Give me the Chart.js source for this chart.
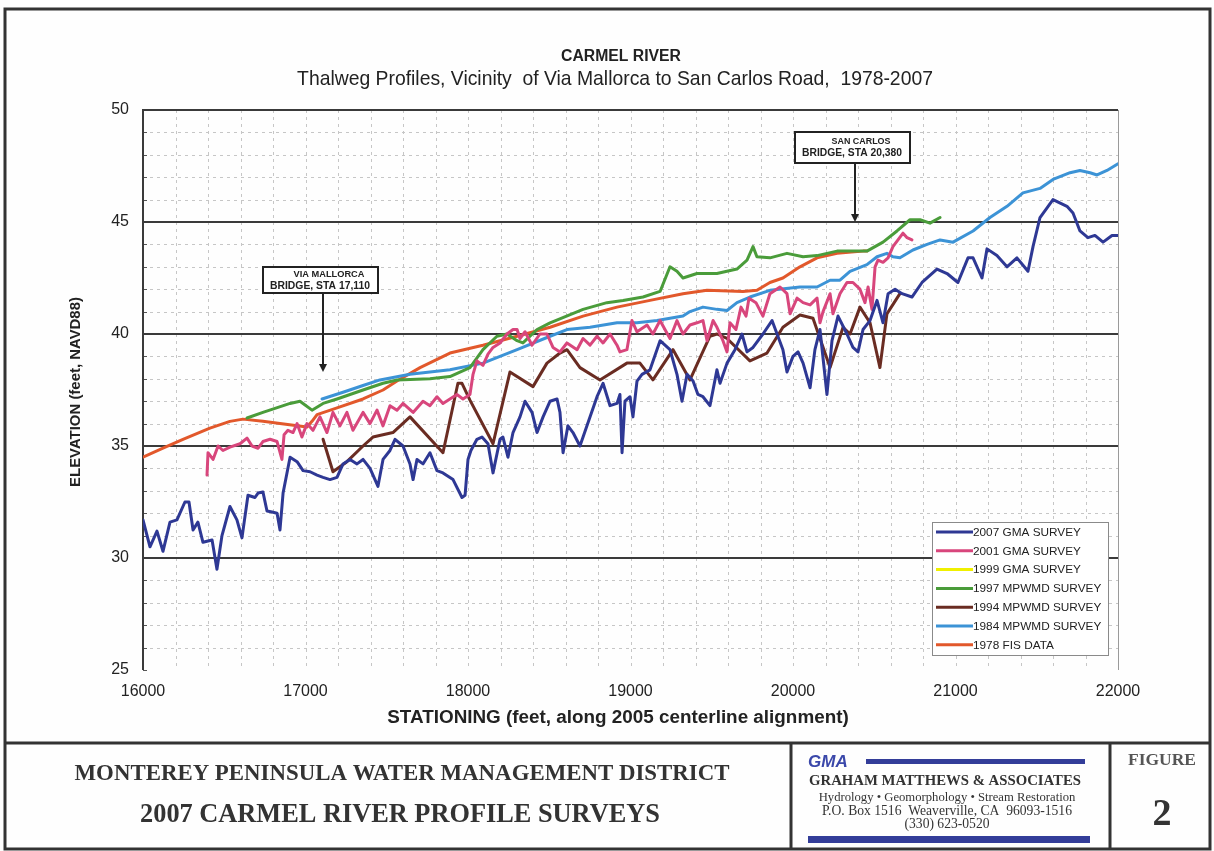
<!DOCTYPE html>
<html>
<head>
<meta charset="utf-8">
<title>Carmel River - Thalweg Profiles</title>
<script src="https://cdn.jsdelivr.net/npm/chart.js@4.4.1/dist/chart.umd.min.js"></script>
<style>
  html, body { margin: 0; padding: 0; background: #fff; }
  #wrap { width: 1214px; height: 851px; }
</style>
</head>
<body>
<div id="wrap"><canvas id="grafico" width="1214" height="851"></canvas></div>
<script>
// --- Dados (estacao em pes, elevacao em pes NAVD88) ---
const sta2007 = [16000,16043,16086,16123,16166,16209,16258,16283,16308,16338,16369,16425,16455,16486,16535,16578,16609,16646,16689,16708,16738,16763,16794,16825,16843,16862,16905,16948,16985,17028,17071,17108,17151,17194,17231,17274,17317,17354,17397,17446,17477,17520,17551,17600,17643,17662,17686,17723,17766,17809,17846,17908,17963,17982,18000,18018,18055,18086,18123,18154,18197,18215,18246,18277,18320,18351,18394,18425,18462,18505,18548,18566,18585,18615,18646,18689,18732,18794,18831,18874,18917,18935,18948,18966,18997,19015,19040,19071,19120,19182,19243,19286,19317,19348,19385,19415,19446,19489,19532,19551,19594,19643,19686,19717,19754,19815,19871,19902,19938,19963,20000,20031,20062,20105,20135,20166,20209,20240,20277,20332,20369,20400,20431,20474,20517,20554,20585,20628,20671,20732,20794,20886,20948,21015,21077,21108,21163,21194,21255,21317,21378,21446,21477,21520,21600,21686,21723,21766,21815,21858,21908,21963,22000];
const elev2007 = [31.7,30.5,31.2,30.3,31.6,31.7,32.5,32.5,31.25,31.6,30.7,30.8,29.5,31.0,32.3,31.7,30.9,32.8,32.7,32.9,32.95,32.1,32.05,32.0,31.25,32.9,34.5,34.3,33.9,33.85,33.7,33.6,33.5,33.6,34.2,34.4,34.2,34.4,34.0,33.2,34.4,34.8,35.3,35.0,34.2,33.5,34.4,34.2,34.7,33.9,33.8,33.5,32.7,32.8,34.4,34.8,35.3,35.4,35.1,33.8,35.3,35.4,34.5,35.6,36.3,37.0,36.5,35.6,36.3,37.0,37.1,36.5,34.7,35.9,35.6,35.0,35.9,37.2,37.8,36.8,36.9,37.3,34.7,37.0,37.2,36.3,37.9,38.2,38.4,39.7,39.3,38.2,37.0,38.2,37.9,37.3,37.2,36.8,38.4,37.8,38.7,39.3,40.0,39.2,39.4,40.0,40.6,40.0,39.3,38.3,39.0,39.2,38.7,37.6,39.3,40.2,37.3,39.7,40.8,40.0,39.4,39.2,40.2,40.6,41.5,40.5,41.8,42.0,41.8,41.65,42.3,42.9,42.7,42.3,43.4,43.4,42.5,43.8,43.5,43.0,43.4,42.8,43.9,45.2,46.0,45.7,45.4,44.6,44.3,44.4,44.1,44.4,44.4];

const sta2001 = [16394,16400,16431,16462,16492,16535,16597,16640,16671,16708,16738,16782,16825,16855,16868,16892,16923,16948,16978,17009,17046,17089,17132,17169,17212,17255,17292,17354,17397,17440,17477,17520,17563,17600,17662,17723,17766,17809,17846,17889,17932,17969,18012,18031,18055,18092,18123,18154,18197,18240,18277,18302,18320,18351,18394,18443,18486,18523,18566,18609,18671,18708,18751,18794,18831,18874,18917,18935,18978,19009,19040,19102,19138,19182,19212,19243,19286,19323,19366,19409,19446,19471,19508,19532,19569,19594,19612,19649,19680,19711,19729,19772,19815,19858,19920,19963,19982,20025,20062,20105,20148,20166,20185,20228,20246,20289,20332,20369,20412,20443,20462,20486,20505,20523,20554,20585,20615,20646,20677,20702,20732];
const elev2001 = [33.7,34.7,34.4,35.0,34.8,34.95,35.1,35.35,35.0,34.9,35.2,35.3,35.2,34.4,35.5,35.7,35.6,36.0,35.4,36.0,35.7,36.3,35.6,36.5,35.9,36.5,35.7,36.5,36.0,36.6,35.9,36.8,36.6,36.9,36.5,37.0,36.8,37.2,36.9,37.1,37.3,37.1,37.3,38.2,38.8,38.6,39.1,39.4,39.6,40.0,40.2,40.2,39.8,40.1,39.5,40.0,40.0,39.4,39.2,39.6,39.3,39.8,39.5,39.9,39.6,40.0,39.5,39.2,39.3,40.6,40.1,40.4,40.0,40.6,40.2,39.8,40.6,40.0,40.4,40.5,40.6,39.7,40.6,40.3,39.7,39.2,40.5,40.2,41.2,40.8,41.6,41.4,40.8,41.8,42.1,41.8,40.9,41.6,41.4,41.3,41.6,40.5,41.0,41.8,40.9,41.8,42.3,42.3,42.0,41.4,42.1,41.1,43.0,43.3,43.2,43.4,43.9,44.2,44.5,44.3,44.2];

// 1999 aparece so na legenda (nao ha linha visivel no grafico)
const sta1999 = [];
const elev1999 = [];

const sta1997 = [16640,16738,16905,16966,17040,17108,17194,17354,17477,17563,17766,17889,18012,18092,18178,18240,18302,18338,18425,18505,18708,18855,18954,19077,19182,19243,19286,19323,19409,19532,19655,19717,19754,19778,19858,19963,20062,20148,20271,20412,20455,20554,20640,20720,20782,20843,20905];
const elev1997 = [36.25,36.5,36.9,37.0,36.6,36.9,37.1,37.5,37.8,37.95,38.0,38.1,38.5,39.3,39.9,40.0,39.7,39.6,40.2,40.5,41.1,41.4,41.5,41.65,41.9,43.0,42.8,42.5,42.7,42.7,42.9,43.3,43.9,43.45,43.4,43.6,43.45,43.5,43.7,43.7,43.7,44.1,44.6,45.1,45.1,44.95,45.2];

const sta1994 = [17108,17169,17255,17354,17415,17538,17643,17846,17938,17963,18012,18154,18258,18400,18486,18566,18609,18689,18812,18978,19058,19138,19262,19366,19489,19532,19594,19735,19840,19938,20043,20123,20228,20308,20351,20412,20474,20535,20578,20658];
const elev1994 = [35.3,33.85,34.3,35.0,35.4,35.6,36.3,34.7,37.8,37.8,37.05,35.1,38.3,37.65,38.7,39.15,39.3,38.5,37.95,38.7,38.7,37.95,39.3,37.95,39.9,40.0,39.8,38.8,39.15,40.3,40.85,40.7,38.5,40.3,40.0,41.2,40.5,38.5,40.9,41.8];

const sta1984 = [17102,17231,17354,17458,17643,17889,18092,18302,18505,18609,18751,18917,19040,19163,19323,19366,19446,19532,19594,19655,19735,19858,20043,20148,20228,20289,20351,20455,20517,20578,20615,20658,20738,20825,20905,20985,21108,21212,21317,21415,21520,21600,21705,21766,21828,21871,21932,22000];
const elev1984 = [37.1,37.4,37.7,37.95,38.2,38.4,38.7,39.3,39.9,40.2,40.3,40.5,40.5,40.6,40.8,41.0,41.2,41.1,41.05,41.4,41.65,41.95,42.1,42.1,42.4,42.4,42.8,43.1,43.45,43.6,43.45,43.4,43.75,44.0,44.2,44.1,44.6,45.2,45.7,46.3,46.5,46.9,47.2,47.3,47.2,47.1,47.3,47.6];

const sta1978 = [16000,16123,16246,16412,16535,16615,16738,16843,17009,17040,17071,17194,17354,17477,17563,17705,17889,18092,18302,18505,18708,18917,19120,19323,19471,19692,19778,19858,19938,20043,20148,20271,20431,20455];
const elev1978 = [34.5,34.9,35.3,35.8,36.1,36.2,36.1,36.0,35.85,36.1,36.4,36.7,37.1,37.5,37.9,38.5,39.15,39.5,39.9,40.3,40.8,41.2,41.5,41.8,41.95,41.9,41.95,42.3,42.5,43.0,43.4,43.6,43.7,43.7];

const nomesSeries = ['2007 GMA SURVEY','2001 GMA SURVEY','1999 GMA SURVEY','1997 MPWMD SURVEY','1994 MPWMD SURVEY','1984 MPWMD SURVEY','1978 FIS DATA'];

// Pontes (estacao em pes)
const pontes = [
  { linhas: ['VIA MALLORCA', 'BRIDGE, STA 17,110'], sta: 17110 },
  { linhas: ['SAN CARLOS', 'BRIDGE, STA 20,380'], sta: 20380 }
];

const SANS = '"Liberation Sans", Arial, sans-serif';
const SERIF = '"Liberation Serif", "Times New Roman", serif';

function pares(sta, elev) {
  return sta.map((s, i) => ({ x: s, y: elev[i] }));
}

const cores = ['#2e3894', '#d8467c', '#f0f000', '#4a9c3a', '#6a2c22', '#3c93d6', '#e2582b'];
const grupos = [[sta2007, elev2007], [sta2001, elev2001], [sta1999, elev1999], [sta1997, elev1997],
                [sta1994, elev1994], [sta1984, elev1984], [sta1978, elev1978]];

const datasets = grupos.map((g, i) => ({
  label: nomesSeries[i],
  data: pares(g[0], g[1]),
  borderColor: cores[i],
  backgroundColor: cores[i],
  borderWidth: 3,
  pointRadius: 0,
  tension: 0,
  fill: false,
  borderJoinStyle: 'round',
  borderCapStyle: 'round'
}));

// escreve texto ajustando o tamanho da fonte para uma largura alvo
function textoLargura(ctx, txt, x, y, largura, peso, familia, cor) {
  ctx.font = peso + ' 100px ' + familia;
  const w = ctx.measureText(txt).width;
  const tam = 100 * largura / w;
  ctx.font = peso + ' ' + tam.toFixed(2) + 'px ' + familia;
  ctx.fillStyle = cor;
  ctx.textAlign = 'center';
  ctx.textBaseline = 'middle';
  ctx.fillText(txt, x, y);
}

function linha(ctx, x1, y1, x2, y2) {
  ctx.beginPath(); ctx.moveTo(x1, y1); ctx.lineTo(x2, y2); ctx.stroke();
}

const desenho = {
  id: 'desenho',
  beforeDraw(chart) {
    const ctx = chart.ctx;
    ctx.save();
    ctx.fillStyle = '#fefefe';
    ctx.fillRect(0, 0, chart.width, chart.height);
    ctx.restore();
  },
  beforeDatasetsDraw(chart) {
    const { ctx, chartArea: a, scales: { x, y } } = chart;
    ctx.save();
    // grade secundaria tracejada
    ctx.lineWidth = 1;
    ctx.strokeStyle = '#c6c6c6';
    ctx.setLineDash([3, 4]);
    x.ticks.forEach(t => {
      if (t.value <= x.min || t.value >= x.max) return;
      const px = Math.round(x.getPixelForValue(t.value)) + 0.5;
      linha(ctx, px, a.top, px, a.bottom);
    });
    y.ticks.forEach(t => {
      if (t.value % 5 === 0) return;
      const py = Math.round(y.getPixelForValue(t.value)) + 0.5;
      linha(ctx, a.left, py, a.right, py);
    });
    ctx.setLineDash([]);
    // marcas pequenas no eixo y
    ctx.strokeStyle = '#555';
    y.ticks.forEach(t => {
      const py = Math.round(y.getPixelForValue(t.value)) + 0.5;
      linha(ctx, a.left, py, a.left + 4, py);
    });
    // borda direita
    ctx.strokeStyle = '#9a9a9a';
    linha(ctx, a.right + 0.5, a.top, a.right + 0.5, a.bottom);
    // linhas principais a cada 5 pes
    ctx.strokeStyle = '#3a3a3a';
    ctx.lineWidth = 2;
    y.ticks.forEach(t => {
      if (t.value % 5 !== 0 || t.value === y.min) return;
      const py = Math.round(y.getPixelForValue(t.value));
      linha(ctx, a.left, py, a.right, py);
    });
    // eixo vertical
    linha(ctx, a.left, a.top - 1, a.left, a.bottom);
    ctx.restore();
  },
  afterDatasetsDraw(chart) {
    const { ctx, chartArea: a, scales: { x, y } } = chart;
    ctx.save();
    // caixas das pontes com seta
    const caixas = [{ topo: 267, base: 293, ponta: 372 }, { topo: 132, base: 163, ponta: 222 }];
    pontes.forEach((p, i) => {
      const ax = Math.round(x.getPixelForValue(p.sta));
      const c = caixas[i];
      ctx.fillStyle = '#fff';
      ctx.strokeStyle = '#222';
      ctx.lineWidth = 2;
      ctx.fillRect(ax - 60, c.topo, 115, c.base - c.topo);
      ctx.strokeRect(ax - 60, c.topo, 115, c.base - c.topo);
      const meio = (c.topo + c.base) / 2;
      textoLargura(ctx, p.linhas[0], ax + 6, meio - 6, p.linhas[0].length * 5.9, 'bold', SANS, '#222');
      textoLargura(ctx, p.linhas[1], ax - 3, meio + 6, 100, 'bold', SANS, '#222');
      ctx.strokeStyle = '#222';
      ctx.lineWidth = 2;
      linha(ctx, ax, c.base, ax, c.ponta - 6);
      ctx.fillStyle = '#222';
      ctx.beginPath();
      ctx.moveTo(ax - 4, c.ponta - 8);
      ctx.lineTo(ax + 4, c.ponta - 8);
      ctx.lineTo(ax, c.ponta);
      ctx.closePath();
      ctx.fill();
    });
    // legenda
    const lx = 932, ly = 522, lw = 176, lh = 133;
    ctx.fillStyle = '#fff';
    ctx.fillRect(lx, ly, lw, lh);
    ctx.strokeStyle = '#8a8a8a';
    ctx.lineWidth = 1;
    ctx.strokeRect(lx + 0.5, ly + 0.5, lw, lh);
    chart.data.datasets.forEach((ds, i) => {
      const yy = 532 + i * 18.8;
      ctx.strokeStyle = ds.borderColor;
      ctx.lineWidth = 3;
      linha(ctx, 936, yy, 973, yy);
      ctx.fillStyle = '#222';
      ctx.font = '11.8px ' + SANS;
      ctx.textAlign = 'left';
      ctx.textBaseline = 'middle';
      ctx.fillText(ds.label, 973, yy + 0.5);
    });
    ctx.restore();
  },
  afterDraw(chart) {
    const ctx = chart.ctx;
    ctx.save();
    // titulos
    textoLargura(ctx, 'CARMEL RIVER', 621, 57, 120, 'bold', SANS, '#222');
    textoLargura(ctx, 'Thalweg Profiles, Vicinity  of Via Mallorca to San Carlos Road,  1978-2007', 615, 80, 636, 'normal', SANS, '#222');
    textoLargura(ctx, 'STATIONING (feet, along 2005 centerline alignment)', 618, 718, 462, 'bold', SANS, '#222');
    ctx.save();
    ctx.translate(76, 392);
    ctx.rotate(-Math.PI / 2);
    textoLargura(ctx, 'ELEVATION (feet, NAVD88)', 0, 0, 190, 'bold', SANS, '#222');
    ctx.restore();

    // moldura
    ctx.strokeStyle = '#333';
    ctx.lineWidth = 3;
    ctx.strokeRect(5, 9, 1205, 840);
    linha(ctx, 5, 743, 1210, 743);
    linha(ctx, 791, 743, 791, 849);
    linha(ctx, 1110, 743, 1110, 849);

    // bloco de titulo
    textoLargura(ctx, 'MONTEREY PENINSULA WATER MANAGEMENT DISTRICT', 402, 774, 655, 'bold', SERIF, '#333');
    textoLargura(ctx, '2007 CARMEL RIVER PROFILE SURVEYS', 400, 815, 520, 'bold', SERIF, '#333');

    // bloco GMA
    ctx.font = 'italic bold 17px ' + SANS;
    ctx.fillStyle = '#3b48aa';
    ctx.textAlign = 'left';
    ctx.textBaseline = 'middle';
    ctx.fillText('GMA', 808, 762);
    ctx.fillStyle = '#333d99';
    ctx.fillRect(866, 759, 219, 5);
    ctx.fillRect(808, 836, 282, 7);
    textoLargura(ctx, 'GRAHAM MATTHEWS & ASSOCIATES', 945, 781, 272, 'bold', SERIF, '#333');
    textoLargura(ctx, 'Hydrology \u2022 Geomorphology \u2022 Stream Restoration', 947, 798, 257, 'normal', SERIF, '#333');
    textoLargura(ctx, 'P.O. Box 1516  Weaverville, CA  96093-1516', 947, 811, 250, 'normal', SERIF, '#333');
    textoLargura(ctx, '(330) 623-0520', 947, 824, 85, 'normal', SERIF, '#333');

    textoLargura(ctx, 'FIGURE', 1162, 760, 68, 'bold', SERIF, '#555');
    ctx.font = 'bold 38px ' + SERIF;
    ctx.fillStyle = '#333';
    ctx.textAlign = 'center';
    ctx.textBaseline = 'middle';
    ctx.fillText('2', 1162, 815);
    ctx.restore();
  }
};

const eixoFonte = { family: SANS, size: 16 };

new Chart(document.getElementById('grafico').getContext('2d'), {
  type: 'line',
  data: { datasets: datasets },
  options: {
    responsive: false,
    animation: false,
    events: [],
    parsing: true,
    layout: { padding: { top: 110, right: 96, left: 0, bottom: 0 } },
    plugins: { legend: { display: false }, tooltip: { enabled: false }, title: { display: false } },
    scales: {
      x: {
        type: 'linear', min: 16000, max: 22000,
        grid: { display: false, drawTicks: false },
        border: { display: false },
        ticks: {
          stepSize: 200, autoSkip: false, maxRotation: 0, padding: 12,
          color: '#222', font: eixoFonte,
          callback: v => (v % 1000 === 0 ? String(v) : '')
        },
        afterFit: s => { s.height = 181; }
      },
      y: {
        type: 'linear', min: 25, max: 50,
        grid: { display: false, drawTicks: false },
        border: { display: false },
        ticks: {
          stepSize: 1, autoSkip: false, padding: 14,
          color: '#222', font: eixoFonte,
          callback: v => (v % 5 === 0 ? String(v) : '')
        },
        afterFit: s => { s.width = 143; }
      }
    }
  },
  plugins: [desenho]
});
</script>
</body>
</html>
